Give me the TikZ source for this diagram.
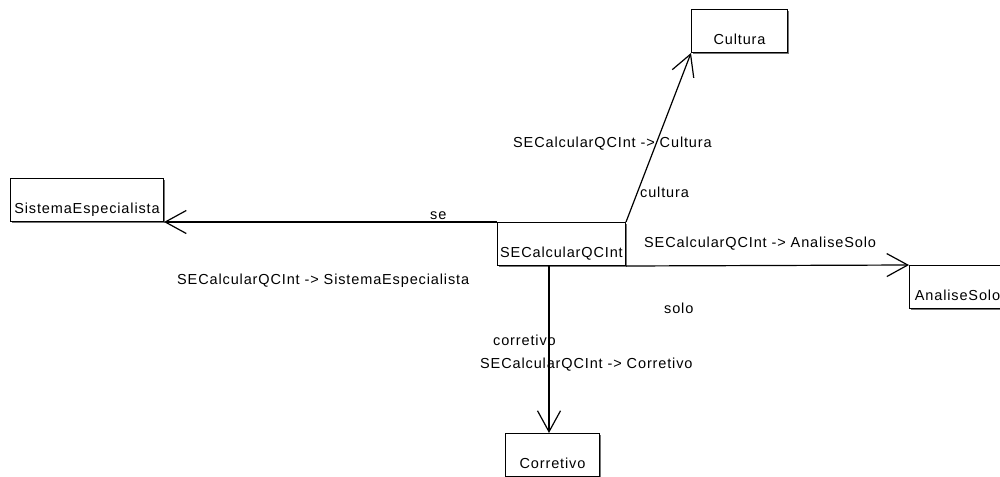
\documentclass[tikz,border=0pt]{standalone}
\usepackage{fontspec}
\setmainfont{Liberation Sans}[LetterSpace=6]
\usetikzlibrary{arrows.meta,shadows}

\begin{document}
\begin{tikzpicture}[
  x=1pt, y=-1pt,
  font=\fontsize{14.5}{16}\selectfont,
  classbox/.style={draw, line width=1pt, fill=white, anchor=north west,
    inner xsep=2pt, inner ysep=0pt, text height=35pt, text depth=8pt,
    drop shadow={shadow xshift=1.6pt, shadow yshift=-1.6pt, fill=black!55, opacity=1}},
  assoc/.style={line width=1.2pt, -{Straight Barb[length=21pt, width=23pt, line width=1.2pt]}},
  lbl/.style={anchor=base west, inner sep=0pt}
]
\useasboundingbox (0,0) rectangle (1000,476);

% classes
\node[classbox, minimum width=153pt] (sistema) at (10,178) {SistemaEspecialista};
\node[classbox, minimum width=128pt] (sec)     at (497,222) {SECalcularQCInt};
\node[classbox, minimum width=96pt]  (cultura) at (691,9)   {Cultura};
\node[classbox, minimum width=96pt]  (analise) at (909,265) {AnaliseSolo};
\node[classbox, minimum width=94pt]  (corretivo) at (505,433) {Corretivo};

% associations
\draw[assoc] (sec.north west) -- (sec.north west -| sistema.east);
\draw[assoc] (sec.north east) -- (cultura.south west);
\draw[assoc] (sec.south east) -- (analise.north west);
\coordinate (cstart) at ([xshift=52pt]sec.south west);
\draw[assoc] (cstart) -- (cstart |- corretivo.north);

% role names and association names
\node[lbl] (lse)   at (430,219) {se};
\node[lbl] (nse)   at (177,284) {SECalcularQCInt -> SistemaEspecialista};
\node[lbl] (ncul)  at (513,147) {SECalcularQCInt -> Cultura};
\node[lbl] (lcul)  at (640,197) {cultura};
\node[lbl] (nsolo) at (644,247) {SECalcularQCInt -> AnaliseSolo};
\node[lbl] (lsolo) at (664,313) {solo};
\node[lbl] (lcor)  at (493,345) {corretivo};
\node[lbl] (ncor)  at (480,368) {SECalcularQCInt -> Corretivo};
\end{tikzpicture}
\end{document}
